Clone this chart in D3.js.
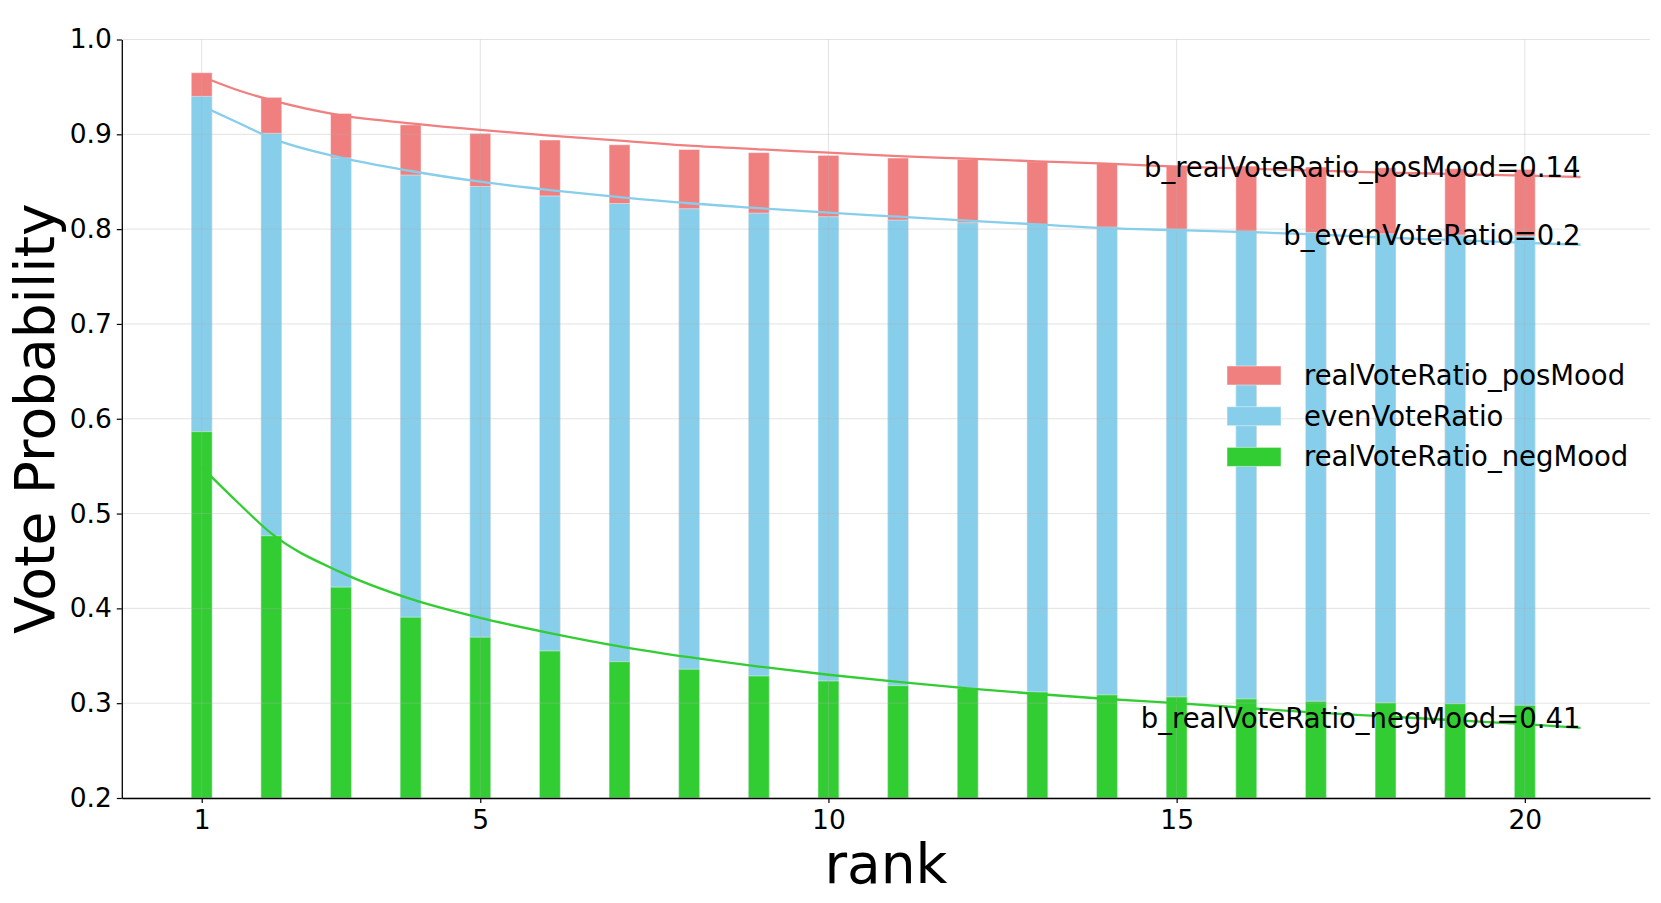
<!DOCTYPE html>
<html>
<head>
<meta charset="utf-8">
<script src="https://cdnjs.cloudflare.com/ajax/libs/d3/7.8.5/d3.min.js"></script>
<style>
  body { margin: 0; background: #fff; }
  text { font-family: "DejaVu Sans", sans-serif; fill: #000; }
</style>
</head>
<body>
<div id="chart"></div>
<script>
// bar data
var ranks = d3.range(1, 21);
var posMood = [0.965, 0.939, 0.922, 0.910, 0.901, 0.894, 0.889, 0.884, 0.8807, 0.8778,
               0.875, 0.8736, 0.8711, 0.8694, 0.867, 0.8665, 0.8655, 0.8648, 0.8638, 0.863];
var evenVote = [0.940, 0.901, 0.875, 0.857, 0.845, 0.835, 0.827, 0.8215, 0.8169, 0.8131,
                0.8095, 0.8068, 0.805, 0.8021, 0.800, 0.7979, 0.7965, 0.7951, 0.7937, 0.7926];
var negMood = [0.5864, 0.4766, 0.4224, 0.3907, 0.3696, 0.3551, 0.3438, 0.3358, 0.3287, 0.3234,
               0.3185, 0.3157, 0.3118, 0.3088, 0.3066, 0.3045, 0.302, 0.3005, 0.2995, 0.2978];

// fitted curves
var fitRanks = [1, 1.5, 2, 3, 4, 5, 6, 7, 8, 9, 10, 11, 12, 13, 14, 15, 16, 17, 18, 19, 20, 20.8];
var posFit = [0.961, 0.947, 0.936, 0.920, 0.9116, 0.9046, 0.8986, 0.8933, 0.888, 0.8842, 0.8807,
              0.877, 0.8743, 0.8715, 0.869, 0.866, 0.8638, 0.8617, 0.8596, 0.8581, 0.8564, 0.855];
var evenFit = [0.930, 0.913, 0.896, 0.8754, 0.8613, 0.850, 0.8412, 0.8338, 0.8273, 0.8222, 0.8173,
               0.8131, 0.8089, 0.805, 0.801, 0.799, 0.7969, 0.7944, 0.7909, 0.7884, 0.7856, 0.7835];
var negFit = [0.549, 0.513, 0.479, 0.438, 0.410, 0.390, 0.374, 0.360, 0.3485, 0.3386, 0.330,
              0.3224, 0.3157, 0.3097, 0.3044, 0.300, 0.295, 0.290, 0.286, 0.282, 0.278, 0.274];

var seriesNames = ["realVoteRatio_posMood", "evenVoteRatio", "realVoteRatio_negMood"];
var fitLabels = ["b_realVoteRatio_posMood=0.14", "b_evenVoteRatio=0.2", "b_realVoteRatio_negMood=0.41"];
var colors = ["#f08080", "#87ceeb", "#32cd32"];
var xTicks = [1, 5, 10, 15, 20];
var yTicks = [0.2, 0.3, 0.4, 0.5, 0.6, 0.7, 0.8, 0.9, 1.0];

var svgWidth = 1661;
var svgHeight = 903;
var margin = { top: 39.5, right: 11, bottom: 105, left: 121.8 };
var width = svgWidth - margin.left - margin.right;
var height = svgHeight - margin.top - margin.bottom;

var svg = d3.select("#chart").append("svg")
  .attr("width", svgWidth)
  .attr("height", svgHeight);

var chartGroup = svg.append("g")
  .attr("transform", `translate(${margin.left}, ${margin.top})`);

var x = d3.scaleLinear().domain([-0.1475, 21.7975]).range([0, width]);
var y = d3.scaleLinear().domain([0.2, 1.0]).range([height, 0]);
var barWidth = 0.3;

var barSeries = [posMood, evenVote, negMood];
var fitSeries = [posFit, evenFit, negFit];

// bars, overlapped from the bottom of the axis
barSeries.forEach(function(vals, i) {
  chartGroup.append("g").selectAll("rect")
    .data(ranks)
    .enter()
    .append("rect")
    .attr("x", d => x(d - barWidth / 2))
    .attr("width", x(barWidth) - x(0))
    .attr("y", (d, j) => y(vals[j]))
    .attr("height", (d, j) => y(0.2) - y(vals[j]))
    .attr("fill", colors[i])
    .attr("stroke", "#fff")
    .attr("stroke-opacity", 0.45)
    .attr("stroke-width", 1);
});

// grid
var grid = chartGroup.append("g")
  .attr("stroke", "#b0b0b0")
  .attr("stroke-opacity", 0.35)
  .attr("stroke-width", 1);
grid.selectAll(".gy").data(yTicks).enter().append("line")
  .attr("x1", 0).attr("x2", width)
  .attr("y1", d => y(d)).attr("y2", d => y(d));
grid.selectAll(".gx").data(xTicks).enter().append("line")
  .attr("y1", 0).attr("y2", height)
  .attr("x1", d => x(d)).attr("x2", d => x(d));

// fitted lines
var line = d3.line()
  .x((d, j) => x(fitRanks[j]))
  .y(d => y(d))
  .curve(d3.curveMonotoneX);

fitSeries.forEach(function(vals, i) {
  chartGroup.append("path")
    .attr("d", line(vals))
    .attr("fill", "none")
    .attr("stroke", colors[i])
    .attr("stroke-width", 2.3);

  var last = vals.length - 1;
  chartGroup.append("text")
    .attr("x", x(fitRanks[last]))
    .attr("y", y(vals[last]))
    .attr("text-anchor", "end")
    .style("font-size", "27.5px")
    .text(fitLabels[i]);
});

// axes
var bottomAxis = d3.axisBottom(x).tickValues(xTicks).tickSize(5).tickSizeOuter(0).tickPadding(7);
var leftAxis = d3.axisLeft(y).tickValues(yTicks).tickFormat(d3.format(".1f"))
  .tickSize(5).tickSizeOuter(0).tickPadding(5);

var xAxis = chartGroup.append("g")
  .attr("transform", `translate(0, ${height})`)
  .call(bottomAxis);
var yAxis = chartGroup.append("g").call(leftAxis);

[xAxis, yAxis].forEach(function(ax) {
  ax.select(".domain").attr("stroke", "#000").attr("stroke-width", 1.3);
  ax.selectAll(".tick line").attr("stroke", "#000").attr("stroke-width", 1.2);
  ax.selectAll(".tick text")
    .style("font-size", "26.5px")
    .style("font-family", "DejaVu Sans, sans-serif")
    .attr("fill", "#000");
});

// axis labels
chartGroup.append("text")
  .attr("x", width / 2)
  .attr("y", height + 85)
  .attr("text-anchor", "middle")
  .style("font-size", "55px")
  .text("rank");

svg.append("text")
  .attr("transform", `translate(54, ${margin.top + height / 2}) rotate(-90)`)
  .attr("text-anchor", "middle")
  .style("font-size", "55px")
  .text("Vote Probability");

// legend
var legend = svg.append("g")
  .attr("transform", "translate(1227, 366)");
var legendItems = legend.selectAll("g")
  .data(seriesNames)
  .enter()
  .append("g")
  .attr("transform", (d, i) => `translate(0, ${i * 40.7})`);
legendItems.append("rect")
  .attr("width", 54)
  .attr("height", 19)
  .attr("fill", (d, i) => colors[i])
  .attr("stroke", "#fff")
  .attr("stroke-opacity", 0.45)
  .attr("stroke-width", 1);
legendItems.append("text")
  .attr("x", 77)
  .attr("y", 19)
  .style("font-size", "27.5px")
  .text(d => d);
</script>
</body>
</html>
